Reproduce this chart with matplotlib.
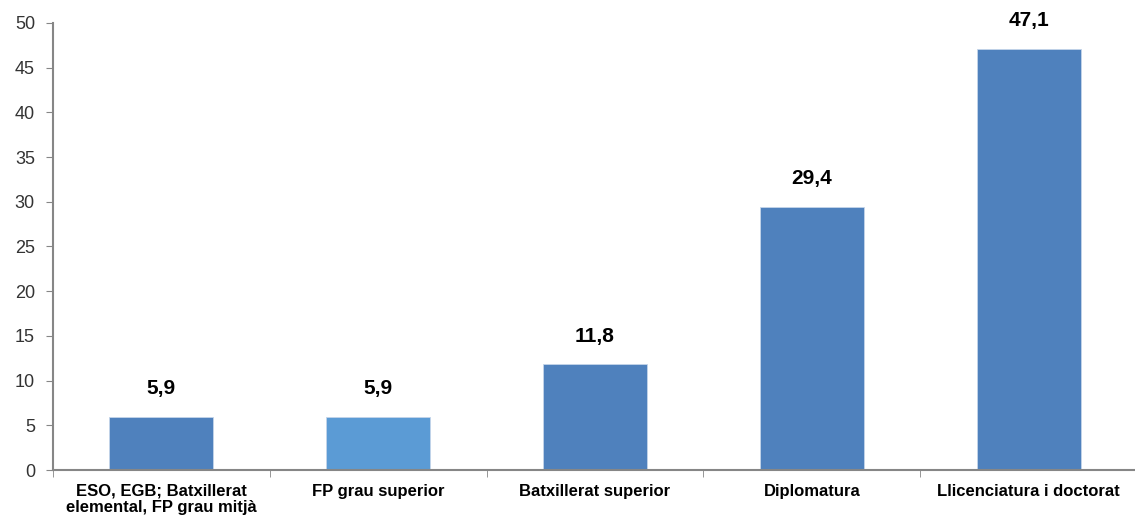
import numpy as np
import matplotlib.pyplot as plt

plt.rcParams['font.family'] = ['Liberation Sans', 'DejaVu Sans']

categories = ['ESO, EGB; Batxillerat\nelemental, FP grau mitjà', 'FP grau superior',
              'Batxillerat superior', 'Diplomatura', 'Llicenciatura i doctorat']
values = [5.9, 5.9, 11.8, 29.4, 47.1]
labels = ['5,9', '5,9', '11,8', '29,4', '47,1']
colors = ['#4F81BD', '#5B9BD5', '#4F81BD', '#4F81BD', '#4F81BD']

fig = plt.figure(figsize=(11.35, 5.23), dpi=100)
ax = fig.add_axes([0.0467, 0.1013, 0.955, 0.855])

x = np.arange(len(categories))
ax.bar(x, values, width=0.48, color=colors, edgecolor='#C5D5EA', linewidth=0.6)

for xi, v, lab in zip(x, values, labels):
    ax.text(xi, v + 2.1, lab, ha='center', va='bottom', fontsize=15, fontweight='bold')

ax.set_xlim(-0.5, len(categories) - 0.5)
ax.set_ylim(0, 50)
ax.set_yticks(range(0, 51, 5))
ax.set_xticks(x)
ax.set_xticklabels(categories, fontsize=12, fontweight='bold', linespacing=1.1)
ax.set_xticks(np.arange(-0.5, len(categories), 1), minor=True)
ax.tick_params(axis='x', which='major', length=0, pad=10)
ax.tick_params(axis='x', which='minor', length=5, color='#868686', direction='out')
ax.tick_params(axis='y', length=5, color='#868686', labelsize=13, labelcolor='#333333', pad=8)

for s in ['top', 'right']:
    ax.spines[s].set_visible(False)
for s in ['left', 'bottom']:
    ax.spines[s].set_color('#868686')
    ax.spines[s].set_linewidth(1.5)

fig.savefig('out.png', dpi=100)
